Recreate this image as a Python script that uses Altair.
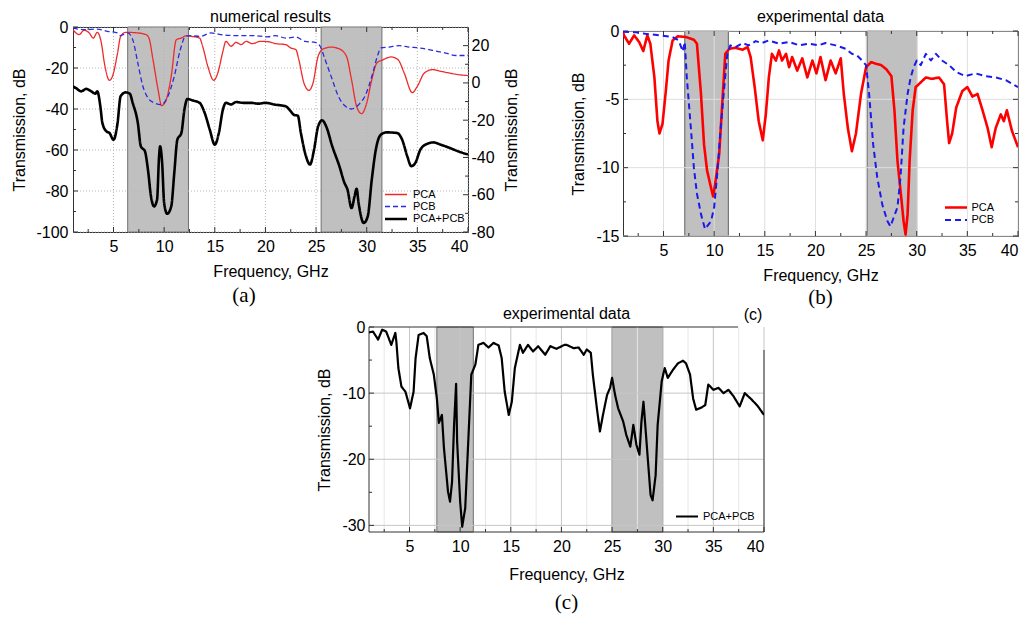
import altair as alt
import pandas as pd

SANS = "Liberation Sans"
SERIF = "Liberation Serif"
W, H = 395, 205
TICK = "#333333"

FREQ_DOMAIN = [1, 40]
freq_major = [5, 10, 15, 20, 25, 30, 35, 40]
freq_minor = [2.5, 7.5, 12.5, 17.5, 22.5, 27.5, 32.5, 37.5]

# ---------------- panel (a): numerical results ----------------
a_title = "numerical results"
a_names = ["PCA", "PCB", "PCA+PCB"]
a_ydomain = [-100, 0]
a_yticks = [0, -20, -40, -60, -80, -100]
a_yminor = [-10, -30, -50, -70, -90]
a_right_domain = [-80, 30]
a_right_ticks = [20, 0, -20, -40, -60, -80]
a_right_minor = [10, -10, -30, -50, -70]
a_band_start = [6.4, 25.5]
a_band_end = [12.4, 31.5]

a_pca_f = [1.0, 1.6, 2.1, 2.6, 3.0, 3.4, 3.8, 4.1, 4.6, 4.9, 5.4, 5.7, 6.2, 7.4, 8.2, 8.5, 8.9, 9.4,
           9.75, 10.2, 10.7, 11.2, 11.7, 12.2, 12.6, 13.5, 13.8, 14.3, 14.9, 15.3, 15.8, 16.1, 16.6,
           17.1, 17.6, 18.1, 18.7, 19.5, 20.3, 21.0, 22.0, 22.5, 23.0, 23.3, 23.8, 24.3, 24.7, 25.2,
           25.7, 26.5, 27.3, 28.0, 28.5, 29.0, 29.5, 30.0, 30.5, 31.0, 31.6, 32.4, 33.1, 33.7, 34.5,
           35.0, 35.7, 36.5, 37.3, 38.1, 39.0, 40.0]
a_pca_v = [-1.3, -3.7, -1.6, -2.9, -5.4, -2.6, -7.8, -17.6, -26, -24, -12.7, -4.6, -2.6, -2.9, -3.7,
           -5.4, -16, -30.6, -38.4, -35.5, -24, -6.2, -5.4, -4.2, -4.5, -5.4, -9.4, -19, -26, -22.4,
           -11.9, -7, -9.4, -7.5, -8.6, -7, -8.1, -7, -7.2, -8.1, -8.6, -10.2, -11, -16, -27.3, -30.9,
           -27.3, -14.3, -10.7, -9.8, -10.7, -14.3, -25.7, -38.7, -42.3, -37, -25.7, -17.6, -16, -14.6,
           -16, -22.4, -32, -28.9, -22.4, -20.8, -21.6, -22.4, -23.2, -23.7]

a_pcb_f = [1.0, 2.1, 3.4, 4.4, 5.4, 5.7, 6.4, 6.9, 7.4, 7.9, 8.4, 9.0, 9.7, 10.3, 11.0, 11.6, 12.1,
           12.6, 13.6, 14.6, 15.6, 17.3, 18.9, 20.2, 21.0, 22.0, 23.0, 23.9, 24.9, 25.4, 25.9, 26.6,
           27.2, 27.9, 28.5, 29.2, 29.9, 30.6, 31.1, 31.4, 32.2, 33.2, 34.2, 35.2, 36.5, 37.8, 38.8, 40.0]
a_pcb_v = [-0.5, -1.3, -1.0, -2.1, -2.9, -4.2, -2.9, -6.2, -17.6, -28.9, -34.6, -37, -37.9, -34.6, -24,
           -11, -4.6, -4.2, -4.6, -2.9, -3.7, -4.2, -4.2, -4.8, -4.2, -5.4, -4.9, -7, -7.5, -9.4, -16,
           -25.7, -33.8, -38.7, -40, -37.9, -33, -22.4, -13.5, -10.2, -9.8, -9.1, -9.8, -10.2, -11.4,
           -12.7, -13.9, -13.9]

a_sum_f = [1.0, 1.3, 1.8, 2.3, 2.8, 3.2, 3.4, 3.7, 3.9, 4.3, 4.6, 5.0, 5.4, 5.7, 6.2, 6.6, 6.9, 7.4,
           7.7, 8.1, 8.4, 8.7, 9.0, 9.3, 9.5, 9.6, 9.8, 10.0, 10.3, 10.7, 11.0, 11.3, 11.7, 12.0, 12.3,
           12.8, 13.5, 14.0, 14.5, 15.0, 15.4, 15.8, 16.1, 16.6, 17.1, 17.8, 18.6, 19.3, 20.0, 21.0,
           22.0, 22.5, 22.8, 23.2, 23.5, 24.0, 24.4, 24.8, 25.2, 25.6, 26.0, 26.6, 27.3, 27.8, 28.1,
           28.5, 28.8, 29.0, 29.2, 29.7, 30.1, 30.5, 30.9, 31.4, 32.0, 33.0, 33.5, 34.0, 34.4, 34.8,
           35.3, 35.8, 36.6, 37.3, 38.2, 39.0, 40.0]
a_sum_v = [-29, -29.8, -31.4, -30.2, -31.4, -32.5, -31.4, -38.7, -46.8, -50.9, -51.7, -55, -46.8,
           -33.8, -31.9, -32.5, -37.1, -46.8, -58.2, -60.6, -69.6, -82.6, -87.5, -84.2, -63, -58.2,
           -66.3, -85.9, -91.1, -87.5, -71.2, -55, -51.7, -40.3, -35.1, -35.8, -37, -41.9, -50, -57.4,
           -51.7, -40.3, -37, -37.8, -36.6, -37, -37, -37.4, -37, -37.9, -38.7, -41.1, -42.8, -43.3,
           -51.7, -63, -67.1, -59.8, -48.5, -45.5, -48.5, -58.2, -67.9, -76, -79.3, -88.3, -82.6,
           -78.9, -85.9, -95.6, -92.4, -74.4, -59.8, -52.5, -51.4, -51.7, -55, -63, -67.9, -66.3,
           -59.8, -57.4, -56.3, -57.4, -59, -60.6, -62.2]

# ---------------- panel (b): experimental data ----------------
b_title = "experimental data"
b_names = ["PCA", "PCB"]
b_ydomain = [-15, 0]
b_yticks = [0, -5, -10, -15]
b_yminor = [-2.5, -7.5, -12.5]
b_band_start = [7.1, 25.1]
b_band_end = [11.4, 30.0]

b_pca_f = [1.0, 1.1, 1.6, 2.1, 2.6, 3.0, 3.4, 3.7, 4.1, 4.4, 4.6, 4.9, 5.2, 5.5, 5.9, 6.4, 7.2, 8.0,
           8.3, 8.7, 9.0, 9.3, 9.7, 9.9, 10.1, 10.5, 10.8, 11.1, 11.5, 12.1, 12.8, 13.3, 13.6, 14.0,
           14.4, 14.8, 15.1, 15.4, 15.7, 16.1, 16.4, 16.7, 17.1, 17.4, 17.7, 18.2, 18.7, 19.2, 19.7,
           20.1, 20.5, 21.0, 21.5, 22.0, 22.5, 22.8, 23.2, 23.6, 24.0, 24.5, 25.0, 25.5, 26.0, 26.5,
           27.0, 27.5, 27.8, 28.1, 28.5, 28.7, 28.9, 29.1, 29.3, 29.6, 29.9, 30.2, 30.9, 31.5, 32.2,
           32.7, 33.0, 33.2, 33.5, 33.9, 34.5, 35.0, 35.5, 36.0, 36.5, 37.0, 37.4, 37.8, 38.3, 38.6,
           38.9, 39.4, 40.0]
b_pca_v = [-0.1, -0.32, -0.93, -0.32, -0.81, -1.47, -0.32, -0.93, -3.4, -6.6, -7.5, -6.8, -4.6,
           -2.16, -0.69, -0.39, -0.44, -0.64, -0.93, -4.6, -8.3, -10.2, -11.5, -12.1, -11.2, -9.0,
           -5.3, -1.67, -1.3, -1.23, -1.37, -1.18, -1.9, -4.1, -6.6, -8.0, -6.1, -3.4, -1.67, -2.16,
           -1.42, -2.16, -1.67, -2.65, -1.9, -2.9, -2.0, -3.4, -2.16, -3.1, -1.9, -3.6, -2.16, -3.1,
           -2.0, -4.6, -7.1, -8.8, -7.5, -4.6, -2.65, -2.28, -2.4, -2.5, -2.8, -3.3, -5.8, -9.5,
           -12.4, -13.9, -14.9, -13.4, -9.5, -5.8, -4.1, -3.9, -3.4, -3.5, -3.4, -3.9, -6.6, -8.2,
           -7.5, -5.6, -4.4, -4.1, -4.8, -4.6, -5.8, -7.1, -8.5, -7.1, -6.1, -6.6, -5.8, -7.3, -8.5]

b_pcb_f = [1.0, 2.3, 3.2, 4.6, 5.9, 6.5, 6.9, 7.1, 7.3, 7.7, 8.0, 8.3, 8.7, 9.1, 9.3, 9.7, 10.0, 10.3,
           10.6, 11.0, 11.3, 11.6, 12.1, 12.8, 13.4, 14.1, 14.7, 15.4, 16.4, 17.4, 18.4, 19.4, 20.3,
           21.0, 22.0, 23.0, 23.6, 24.1, 24.6, 25.0, 25.3, 25.7, 26.1, 26.6, 27.1, 27.4, 27.7, 28.1,
           28.4, 28.7, 29.1, 29.4, 29.7, 30.0, 30.4, 30.9, 31.4, 31.9, 32.5, 33.2, 33.9, 34.8, 35.8,
           36.8, 37.8, 38.8, 40.0]
b_pcb_v = [-0.05, -0.1, -0.2, -0.32, -0.44, -0.69, -1.5, -0.8, -3.4, -7.1, -10, -11.9, -13.4, -14.5,
           -14.3, -13.9, -12.9, -10.5, -7.5, -4.1, -1.67, -1.05, -1.18, -0.88, -1.05, -0.74, -0.88,
           -0.69, -0.93, -0.81, -1.05, -0.93, -1.05, -0.88, -1.05, -1.3, -1.67, -1.79, -2.16, -2.5,
           -4.6, -8.3, -10.7, -12.7, -13.9, -14.3, -13.7, -12.9, -10.7, -7.1, -4.6, -3.4, -2.65,
           -2.16, -2.5, -1.67, -2.16, -1.67, -2.16, -2.5, -3.0, -3.3, -3.1, -3.3, -3.4, -3.6, -4.1]

# ---------------- panel (c): experimental data, PCA+PCB ----------------
c_title = "experimental data"
c_names = ["PCA+PCB"]
c_ydomain = [-31, 0]
c_yticks = [0, -10, -20, -30]
c_yminor = [-5, -15, -25]
c_band_start = [7.7, 25.0]
c_band_end = [11.3, 30.0]

c_sum_f = [1.0, 1.4, 1.9, 2.3, 2.7, 3.2, 3.6, 3.7, 3.9, 4.2, 4.6, 5.05, 5.4, 5.6, 5.9, 6.4, 6.7, 7.0,
           7.4, 7.7, 7.9, 8.2, 8.4, 8.8, 9.0, 9.2, 9.4, 9.6, 9.7, 10.0, 10.2, 10.5, 10.8, 11.1, 11.5,
           11.8, 12.3, 12.8, 13.3, 13.8, 14.1, 14.4, 14.8, 15.1, 15.4, 15.9, 16.2, 16.7, 17.2, 17.7,
           18.4, 18.9, 19.5, 20.3, 20.5, 21.2, 21.7, 22.2, 22.5, 22.9, 23.1, 23.5, 23.8, 24.1, 24.5,
           24.8, 25.0, 25.3, 25.6, 26.1, 26.4, 26.8, 27.1, 27.4, 27.7, 27.9, 28.1, 28.3, 28.6, 28.8,
           29.0, 29.3, 29.5, 29.9, 30.2, 30.5, 31.0, 31.5, 32.0, 32.3, 32.7, 33.0, 33.3, 33.8, 34.2,
           34.5, 35.0, 35.5, 36.0, 36.5, 37.0, 37.6, 38.1, 38.8, 39.4, 40.0]
c_sum_v = [-0.8, -0.7, -1.9, -0.4, -0.7, -2.7, -0.9, -2.2, -6.2, -9, -9.8, -12.3, -9.8, -4.7, -1.2,
           -0.9, -1.4, -4.7, -7.2, -10.8, -14.5, -13.3, -18.3, -24.9, -26.4, -23.4, -14.8, -8.6,
           -17.3, -26.4, -30.2, -27.4, -17.3, -7.2, -5.7, -2.7, -2.4, -3.1, -2.4, -2.8, -4.7, -9.8,
           -13.3, -11.3, -6.2, -2.7, -3.9, -2.7, -3.7, -2.9, -4.2, -2.9, -3.3, -2.7, -2.7, -3.2, -3.1,
           -4.2, -3.4, -3.9, -7.2, -12.3, -15.8, -13.3, -10.3, -9.2, -7.7, -10.3, -12.3, -14.3,
           -16.3, -18.1, -14.8, -17.8, -19.3, -14.3, -11.3, -15.3, -21.4, -25.4, -26.2, -22.4, -14.8,
           -8.2, -6.2, -7.7, -6.5, -5.5, -5.1, -5.5, -7.2, -10.8, -12.5, -12.2, -11.8, -8.7, -9.5,
           -9.2, -10, -9.5, -10.5, -12, -10, -11, -12, -13.3]


# ---------------- helpers ----------------
def one(**cols):
    return pd.DataFrame(cols)


def fx(field, axis):
    return alt.X(f"{field}:Q", scale=alt.Scale(domain=FREQ_DOMAIN, nice=False, zero=False), axis=axis)


def fy(field, domain, axis):
    return alt.Y(f"{field}:Q", scale=alt.Scale(domain=domain, nice=False, zero=False), axis=axis)


def x_axis(title_pad):
    return alt.Axis(values=freq_major, title="Frequency, GHz", labelPadding=6, titlePadding=title_pad,
                    labelExpr="datum.value + ''", grid=False, domain=False, ticks=False,
                    labelFont=SANS, titleFont=SANS, labelFontSize=16, titleFontSize=16,
                    titleFontWeight="normal", labelColor="black", titleColor="black")


def y_axis(values, label_pad, title_pad, orient="left", angle=270):
    return alt.Axis(values=values, title="Transmission, dB", labelPadding=label_pad, orient=orient,
                    titlePadding=title_pad, labelExpr="datum.value + ''", titleAngle=angle,
                    grid=False, domain=False, ticks=False,
                    labelFont=SANS, titleFont=SANS, labelFontSize=16, titleFontSize=16,
                    titleFontWeight="normal", labelColor="black", titleColor="black")


class Panel:
    def __init__(self, xaxis, ydom, yaxis):
        self.xaxis, self.ydom, self.yaxis = xaxis, ydom, yaxis

    def X(self, field):
        return fx(field, self.xaxis)

    def Y(self, field):
        return fy(field, self.ydom, self.yaxis)

    def bands(self, starts, ends, stroke):
        return alt.Chart(one(b0=starts, b1=ends)).mark_rect(
            fill="#c0c0c0", stroke=stroke, strokeWidth=1).encode(x=self.X("b0"), x2="b1:Q")

    def vgrid(self, vals, color, **kw):
        return alt.Chart(one(g=vals)).mark_rule(color=color, strokeWidth=1, **kw).encode(x=self.X("g"))

    def hgrid(self, vals, color, **kw):
        return alt.Chart(one(g=vals)).mark_rule(color=color, strokeWidth=1, **kw).encode(y=self.Y("g"))

    def xticks(self, vals, length, top=True):
        base = alt.Chart(one(t=vals)).mark_rule(color=TICK, strokeWidth=1)
        layers = [base.encode(x=self.X("t"), y=alt.value(H), y2=alt.value(H - length))]
        if top:
            layers.append(base.encode(x=self.X("t"), y=alt.value(0), y2=alt.value(length)))
        return layers

    def yticks(self, vals, length, left=True, right=True):
        base = alt.Chart(one(t=vals)).mark_rule(color=TICK, strokeWidth=1)
        layers = []
        if left:
            layers.append(base.encode(y=self.Y("t"), x=alt.value(0), x2=alt.value(length)))
        if right:
            layers.append(base.encode(y=self.Y("t"), x=alt.value(W), x2=alt.value(W - length)))
        return layers

    def lines(self, df, names, colors, dashes, widths, legend, interp):
        return alt.Chart(df).mark_line(interpolate=interp, strokeJoin="round", clip=True).encode(
            x=self.X("f"),
            y=self.Y("v"),
            color=alt.Color("s:N", scale=alt.Scale(domain=names, range=colors), legend=legend),
            strokeDash=alt.StrokeDash("s:N", scale=alt.Scale(domain=names, range=dashes), legend=legend),
            strokeWidth=alt.StrokeWidth("s:N", scale=alt.Scale(type="ordinal", domain=names, range=widths),
                                        legend=legend),
        )


def series_frame(fs, vs, names):
    parts = [pd.DataFrame({"f": f, "v": v, "s": n}) for f, v, n in zip(fs, vs, names)]
    return pd.concat(parts, ignore_index=True)


def label(txt, x, y, font, size, baseline="middle"):
    return alt.Chart(one(lab=[txt])).mark_text(
        font=font, fontSize=size, align="center", baseline=baseline, color="black").encode(
        x=alt.value(x), y=alt.value(y), text="lab:N")


def title_mark(txt, offset):
    return label(txt, W / 2, -offset, SANS, 16, baseline="alphabetic")


def legend_at(x, y, label_offset):
    return alt.Legend(orient="none", legendX=x, legendY=y, title=None, symbolType="M-2,0H2",
                      symbolSize=121, labelFont=SANS, labelFontSize=11, labelColor="black",
                      rowPadding=0, padding=0, labelOffset=label_offset)


def spacer(w, h):
    return alt.Chart(one(k=[0])).mark_point(opacity=0, size=1).encode(
        x=alt.value(0), y=alt.value(0)).properties(
        width=w, height=h, view=alt.ViewBackground(stroke="transparent"))


INDEP = dict(color="independent", strokeDash="independent", strokeWidth="independent")

# ---------------- panel (a) ----------------
pa = Panel(x_axis(9), a_ydomain, y_axis(a_yticks, 5, 8))
a_df = series_frame([a_pca_f, a_pcb_f, a_sum_f], [a_pca_v, a_pcb_v, a_sum_v], a_names)
a_inner = alt.layer(
    pa.bands(a_band_start, a_band_end, "#707070"),
    pa.vgrid(freq_major, "#b5b5b5", strokeDash=[1, 2]),
    pa.hgrid(a_yticks, "#b5b5b5", strokeDash=[1, 2]),
    *pa.xticks(freq_major, 5), *pa.xticks(freq_minor, 3),
    *pa.yticks(a_yticks, 5, right=False), *pa.yticks(a_yminor, 3, right=False),
    pa.lines(a_df, a_names, ["#ee2a2a", "#2a2ae0", "#000000"], [[1, 0], [5, 3], [1, 0]], [1.3, 1.3, 2.6],
             legend_at(316, 161, 10), "monotone"),
    title_mark(a_title, 5.5),
    label("(a)", 171, H + 64, SERIF, 21),
)
pr = Panel(x_axis(9), a_right_domain, y_axis(a_right_ticks, 3, 25, orient="right", angle=270))
a_right = alt.layer(
    alt.Chart(one(r=a_right_domain)).mark_point(opacity=0).encode(y=pr.Y("r")),
    *pr.yticks(a_right_ticks, 5, left=False), *pr.yticks(a_right_minor, 3, left=False),
)
panel_a = alt.layer(a_inner, a_right).resolve_scale(y="independent").properties(width=W, height=H)

# ---------------- panel (b) ----------------
pb = Panel(x_axis(9), b_ydomain, y_axis(b_yticks, 4, 9))
b_df = series_frame([b_pca_f, b_pcb_f], [b_pca_v, b_pcb_v], b_names)
panel_b = alt.layer(
    pb.bands(b_band_start, b_band_end, "#606060"),
    pb.vgrid(freq_major, "#dedede"),
    pb.hgrid(b_yticks, "#dedede"),
    *pb.xticks(freq_major, 5), *pb.xticks(freq_minor, 3),
    *pb.yticks(b_yticks, 5), *pb.yticks(b_yminor, 3),
    pb.lines(b_df, b_names, ["#ff0000", "#1a1aee"], [[1, 0], [6, 4]], [2.6, 2.0],
             legend_at(326, 169.5, 8.5), "linear"),
    title_mark(b_title, 9.5),
    label("(b)", W / 2, H + 62, SERIF, 21),
).properties(width=W, height=H)

# ---------------- panel (c) ----------------
pc = Panel(x_axis(12), c_ydomain, y_axis(c_yticks, 4, 9))
c_df = series_frame([c_sum_f], [c_sum_v], c_names)
frame = alt.Chart(one(k=[0])).mark_rule(color=TICK, strokeWidth=1)
panel_c = alt.layer(
    pc.bands(c_band_start, c_band_end, "#707070"),
    pc.vgrid(freq_minor, "#e6e6e6"),
    pc.vgrid(freq_major, "#c6c6c6"),
    pc.hgrid([-10, -20, -30], "#c6c6c6"),
    *pc.xticks(freq_major, 5, top=False), *pc.xticks(freq_minor, 3, top=False),
    *pc.yticks(c_yticks, 5, right=False), *pc.yticks(c_yminor, 3, right=False),
    frame.encode(x=alt.value(0), y=alt.value(0), y2=alt.value(H)),
    frame.encode(x=alt.value(0), x2=alt.value(W), y=alt.value(H)),
    frame.encode(x=alt.value(0), x2=alt.value(369), y=alt.value(0)),
    frame.encode(x=alt.value(W), y=alt.value(23), y2=alt.value(H)),
    pc.lines(c_df, c_names, ["#000000"], [[1, 0]], [2.2], legend_at(311, 182.5, 9), "linear"),
    title_mark(c_title, 8.5),
    label("(c)", 384, -12, SANS, 16),
    label("(c)", W / 2, H + 71, SERIF, 21),
).properties(width=W, height=H, view=alt.ViewBackground(stroke="transparent"))

top_row = alt.hconcat(
    panel_a,
    alt.vconcat(spacer(1, 4), panel_b, spacing=0, bounds="flush").resolve_scale(**INDEP),
    spacing=50,
).resolve_scale(**INDEP).resolve_legend(**INDEP)

bottom_row = alt.hconcat(spacer(242, 10), panel_c, spacing=0).resolve_scale(**INDEP)

chart = alt.vconcat(top_row, bottom_row, spacing=-4).resolve_scale(**INDEP).resolve_legend(**INDEP).properties(
    padding={"left": 3, "top": 0, "right": 0, "bottom": 0}, background="white"
).configure_view(
    stroke="#333333", strokeWidth=1
)

chart.save("out.html", embed_options={"renderer": "svg", "actions": False})
